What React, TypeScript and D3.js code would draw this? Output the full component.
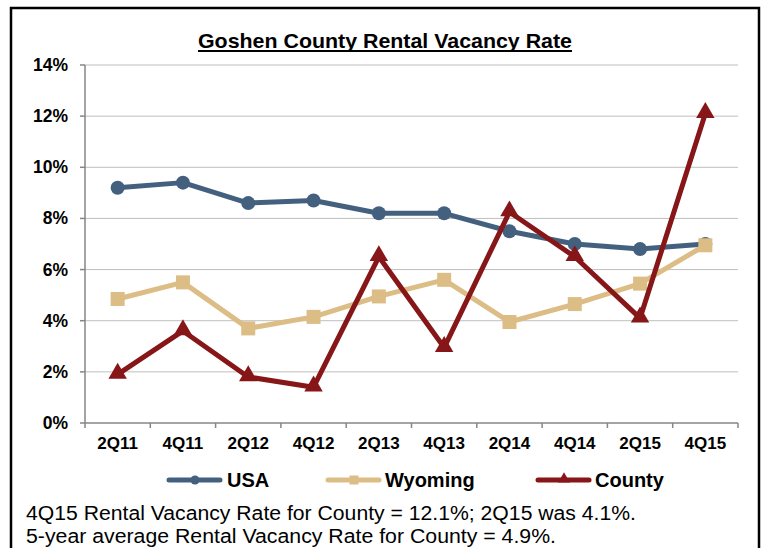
import React from "react";
import * as d3 from "d3";

const quarters = ["2Q11", "4Q11", "2Q12", "4Q12", "2Q13", "4Q13", "2Q14", "4Q14", "2Q15", "4Q15"];
const usaValues = [9.2, 9.4, 8.6, 8.7, 8.2, 8.2, 7.5, 7.0, 6.8, 7.0];
const wyomingValues = [4.85, 5.5, 3.7, 4.15, 4.95, 5.6, 3.95, 4.65, 5.45, 6.95];
const countyValues = [1.9, 3.6, 1.8, 1.4, 6.5, 2.95, 8.25, 6.5, 4.1, 12.1];
const yTicks = [0, 2, 4, 6, 8, 10, 12, 14];
const noteLines = [
  "4Q15 Rental Vacancy Rate for County = 12.1%; 2Q15 was 4.1%.",
  "5-year average Rental Vacancy Rate for County = 4.9%.",
];

const FONT = "'Liberation Sans', Arial, sans-serif";

const series = [
  { name: "USA", values: usaValues, color: "#44607f", marker: "circle" },
  { name: "Wyoming", values: wyomingValues, color: "#dcbd86", marker: "square" },
  { name: "County", values: countyValues, color: "#861617", marker: "triangle" },
];

// plot area
const left = 85;
const right = 738;
const top = 65;
const bottom = 423;

const Marker = ({ type, x, y, color, size }) => {
  if (type === "circle") return <circle cx={x} cy={y} r={size / 2} fill={color} />;
  if (type === "square")
    return <rect x={x - size / 2} y={y - size / 2} width={size} height={size} fill={color} />;
  const sym = d3.symbol(d3.symbolTriangle, size * size * 0.75)();
  return <path d={sym} transform={`translate(${x},${y - 1})`} fill={color} />;
};

export default function App() {
  const x = d3.scaleBand().domain(quarters).range([left, right]);
  const y = d3.scaleLinear().domain([0, 14]).range([bottom, top]);
  const line = d3
    .line<number>()
    .x((_, i) => x(quarters[i])! + x.bandwidth() / 2)
    .y((d) => y(d));

  const legendItems = [
    { lineX: 167, textX: 227 },
    { lineX: 326, textX: 385 },
    { lineX: 536, textX: 595 },
  ];
  const noteWidths = [610, 530];

  return (
    <svg width={764} height={548} style={{ position: "absolute", left: 0, top: 0, background: "#fff" }}>
      <rect x={11} y={8} width={748} height={560} fill="#fff" stroke="#000" strokeWidth={2.5} />

      <text x={385} y={48} textAnchor="middle" fontFamily={FONT} fontWeight="bold" fontSize={21}
        textLength={374} lengthAdjust="spacingAndGlyphs">
        Goshen County Rental Vacancy Rate
      </text>
      <line x1={198} x2={572} y1={51} y2={51} stroke="#000" strokeWidth={2} />

      {/* gridlines */}
      {yTicks.slice(1).map((t) => (
        <line key={t} x1={left} x2={right} y1={y(t)} y2={y(t)} stroke="#bfbfbf" strokeWidth={1} />
      ))}

      {/* y axis */}
      <line x1={left} x2={left} y1={top} y2={bottom} stroke="#868686" strokeWidth={1.5} />
      {yTicks.map((t) => (
        <g key={t}>
          <line x1={left - 5} x2={left} y1={y(t)} y2={y(t)} stroke="#868686" strokeWidth={1.5} />
          <text x={68} y={y(t) + 6} textAnchor="end" fontFamily={FONT} fontWeight="bold" fontSize={17.5}>
            {t}%
          </text>
        </g>
      ))}

      {/* x axis */}
      <line x1={left} x2={right} y1={bottom} y2={bottom} stroke="#868686" strokeWidth={1.5} />
      {quarters.map((q) => (
        <line key={q} x1={x(q)!} x2={x(q)!} y1={bottom} y2={bottom + 5} stroke="#868686" strokeWidth={1.5} />
      ))}
      <line x1={right} x2={right} y1={bottom} y2={bottom + 5} stroke="#868686" strokeWidth={1.5} />
      {quarters.map((q) => (
        <text key={q} x={x(q)! + x.bandwidth() / 2} y={449} textAnchor="middle" fontFamily={FONT}
          fontWeight="bold" fontSize={17}>
          {q}
        </text>
      ))}

      {/* series */}
      {series.map((s) => (
        <g key={s.name}>
          <path d={line(s.values)!} fill="none" stroke={s.color} strokeWidth={5} strokeLinejoin="round" />
          {s.values.map((v, i) => (
            <Marker key={i} type={s.marker} x={x(quarters[i])! + x.bandwidth() / 2} y={y(v)} color={s.color} size={14} />
          ))}
        </g>
      ))}

      {/* legend */}
      {series.map((s, i) => (
        <g key={s.name}>
          <line x1={legendItems[i].lineX + 2} x2={legendItems[i].lineX + 53} y1={480} y2={480}
            stroke={s.color} strokeWidth={5} strokeLinecap="round" />
          <Marker type={s.marker} x={legendItems[i].lineX + 28} y={480} color={s.color} size={9} />
          <text x={legendItems[i].textX} y={487} fontFamily={FONT} fontWeight="bold" fontSize={20}>
            {s.name}
          </text>
        </g>
      ))}

      {/* notes */}
      {noteLines.map((l, i) => (
        <text key={i} x={26} y={520 + i * 23} fontFamily={FONT} fontSize={20}
          textLength={noteWidths[i]} lengthAdjust="spacingAndGlyphs">
          {l}
        </text>
      ))}
    </svg>
  );
}
